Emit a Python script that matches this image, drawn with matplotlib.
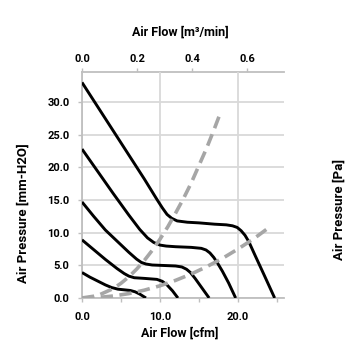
import matplotlib
matplotlib.use('Agg')
import matplotlib.pyplot as plt
from matplotlib.ticker import MultipleLocator, FixedLocator

plt.rcParams['font.family'] = ['Roboto', 'DejaVu Sans']
plt.rcParams['font.weight'] = 'bold'

# fan P-Q curves, cfm vs mm-H2O (one per fan speed)
curve1_x = [0, 2, 4, 6, 8, 9.6, 10.3, 10.9, 11.5, 12.2, 13.5, 15, 17, 18.5, 19.3, 19.9, 20.4, 20.9, 21.4, 22.2, 23.4, 24.7]
curve1_y = [33.0, 29.3, 25.6, 21.9, 18.2, 15.1, 13.8, 12.8, 12.2, 11.8, 11.6, 11.5, 11.3, 11.2, 11.05, 10.8, 10.3, 9.6, 8.6, 6.5, 3.4, 0.0]
curve2_x = [0, 2, 4, 6, 7.4, 8.4, 9.2, 10.0, 10.8, 12, 14, 15.3, 15.9, 16.4, 16.9, 17.4, 18.0, 18.8, 19.7]
curve2_y = [22.8, 19.4, 16.0, 12.7, 10.5, 9.2, 8.5, 8.1, 7.95, 7.85, 7.75, 7.6, 7.35, 6.9, 6.2, 5.3, 4.1, 2.3, 0.0]
curve3_x = [0, 1.5, 3, 4.5, 6, 7, 7.6, 8.2, 9, 10, 12, 12.8, 13.4, 13.9, 14.5, 15.4, 16.3]
curve3_y = [14.7, 12.5, 10.4, 8.7, 7.0, 5.95, 5.45, 5.2, 5.05, 5.0, 4.9, 4.75, 4.4, 3.9, 3.0, 1.5, 0.0]
curve4_x = [0, 1.5, 3, 4.5, 5.4, 6.0, 6.7, 8, 9.6, 10.3, 10.9, 11.6, 12.3]
curve4_y = [8.9, 7.4, 5.9, 4.5, 3.75, 3.35, 3.1, 3.0, 2.85, 2.55, 2.0, 1.1, 0.0]
curve5_x = [0, 1, 2, 3, 3.8, 4.6, 5.4, 6.2, 6.8, 7.4, 8.2]
curve5_y = [3.9, 3.2, 2.6, 2.0, 1.6, 1.35, 1.25, 1.15, 0.95, 0.6, 0.0]

# system impedance curves
imp_high_x = [0, 2, 4, 5, 6, 7, 8, 9, 10, 11, 12, 13, 14, 15, 16, 17, 17.7]
imp_high_y = [0, 0.36, 1.44, 2.25, 3.24, 4.41, 5.76, 7.29, 9.0, 10.9, 13.0, 15.2, 17.6, 20.3, 23.0, 26.0, 28.2]
imp_low_x = [0, 2, 4, 6, 8, 10, 12, 14, 16, 18, 20, 22, 24.1]
imp_low_y = [0, 0.07, 0.3, 0.67, 1.2, 1.87, 2.7, 3.67, 4.8, 6.06, 7.5, 9.05, 10.9]

CFM_TO_CMM = 0.0283168
grid_c = '#d9d9d9'
axis_c = '#bfbfbf'

fig = plt.figure(figsize=(3.55, 3.55), dpi=100)
ax = fig.add_axes([0.231, 0.1606, 0.569, 0.6366])

for cx, cy in [(curve1_x, curve1_y), (curve2_x, curve2_y), (curve3_x, curve3_y),
               (curve4_x, curve4_y), (curve5_x, curve5_y)]:
    ax.plot(cx, cy, color='black', lw=2.1, solid_capstyle='butt',
            solid_joinstyle='round', zorder=3)

for ix, iy in [(imp_high_x, imp_high_y), (imp_low_x, imp_low_y)]:
    ax.plot(ix, iy, color='#a6a6a6', lw=2.6, dashes=(3.4, 1.8), zorder=4)

ax.set_xlim(0, 25.9)
ax.set_ylim(0, 34.6)
ax.xaxis.set_major_locator(FixedLocator([0, 10, 20]))
ax.xaxis.set_minor_locator(FixedLocator([5, 15, 25]))
ax.yaxis.set_major_locator(MultipleLocator(5))
ax.xaxis.set_major_formatter(lambda v, p: f'{v:.1f}')
ax.yaxis.set_major_formatter(lambda v, p: f'{v:.1f}')
ax.grid(True, color=grid_c, lw=1.3, zorder=0)
ax.set_axisbelow(True)

for s in ['top', 'right']:
    ax.spines[s].set_visible(False)
for s in ['left', 'bottom']:
    ax.spines[s].set_color(axis_c)
    ax.spines[s].set_linewidth(1.3)
ax.tick_params(which='both', direction='out', length=3, width=1, color=axis_c,
               labelsize=8)
ax.tick_params(axis='y', pad=6)
ax.tick_params(axis='x', pad=7)

sec = ax.secondary_xaxis('top', functions=(lambda v: v * CFM_TO_CMM, lambda v: v / CFM_TO_CMM))
sec.xaxis.set_major_locator(MultipleLocator(0.2))
sec.xaxis.set_major_formatter(lambda v, p: f'{v:.1f}')
sec.spines['top'].set_color(axis_c)
sec.spines['top'].set_linewidth(1.3)
sec.tick_params(direction='out', length=3, width=1, color=axis_c, labelsize=8, pad=2.5)

fig.text(180 / 355, 1 - 32 / 355, 'Air Flow [m³/min]', ha='center', va='center', fontsize=9, fontweight='bold')
fig.text(180 / 355, 1 - 333 / 355, 'Air Flow [cfm]', ha='center', va='center', fontsize=9, fontweight='bold')
fig.text(23 / 355, 1 - 213 / 355, 'Air Pressure [mm-H2O]', ha='center', va='center',
         rotation=90, fontsize=9.5, fontweight='bold')
fig.text(339 / 355, 1 - 210 / 355, 'Air Pressure [Pa]', ha='center', va='center',
         rotation=90, fontsize=9.5, fontweight='bold')

fig.savefig('out.png', dpi=100)
